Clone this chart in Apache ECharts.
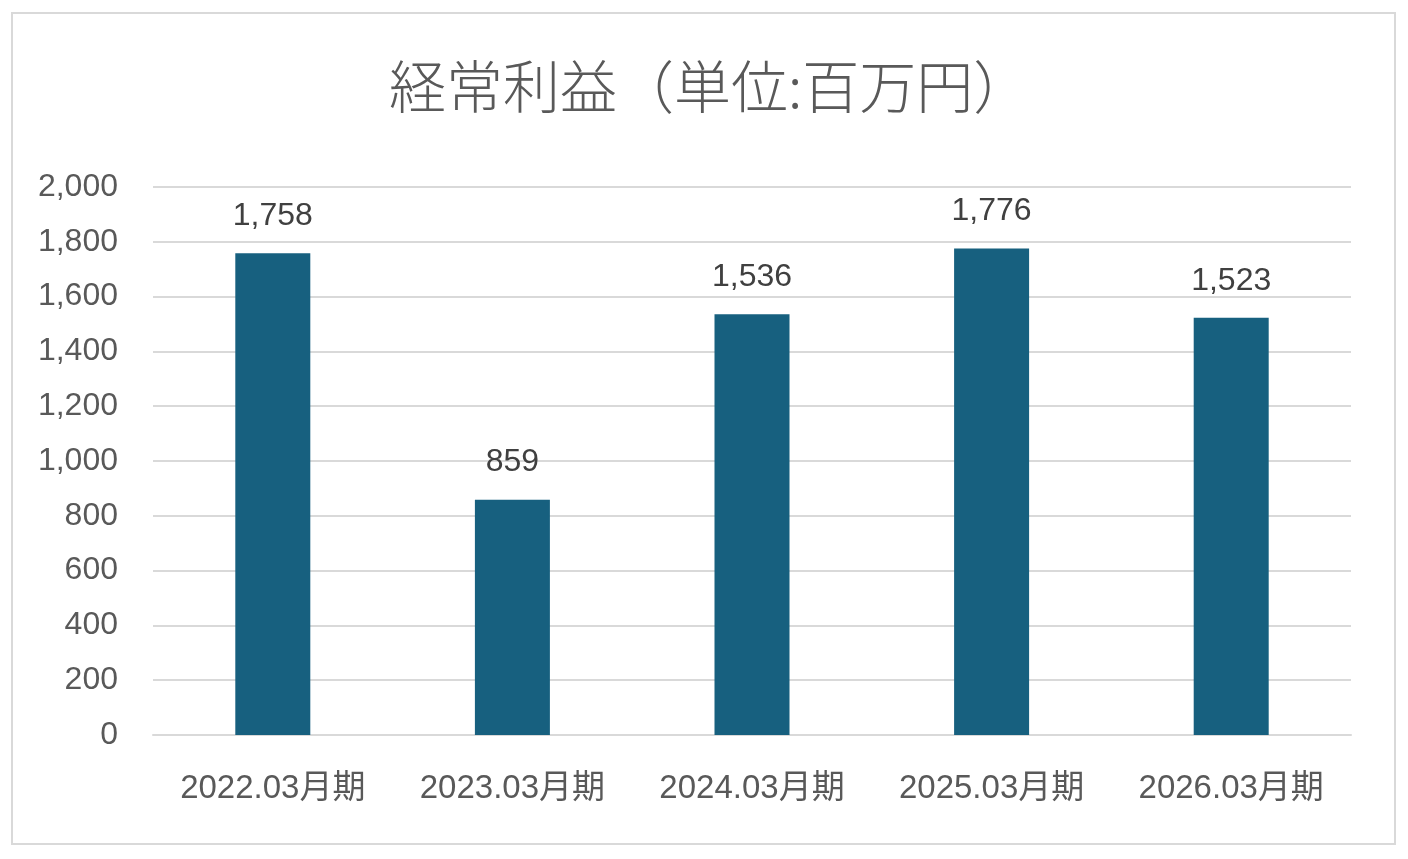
<!DOCTYPE html>
<html><head><meta charset="utf-8">
<script src="https://cdn.jsdelivr.net/npm/echarts@6/dist/echarts.min.js"></script>
<style>html,body{margin:0;padding:0;background:#fff}#c{width:1408px;height:859px}</style>
</head><body><div id="c"></div>
<script>
const titleText = '経常利益（単位:百万円）';
const categories = ['2022.03月期','2023.03月期','2024.03月期','2025.03月期','2026.03月期'];
const values = [1758, 859, 1536, 1776, 1523];
const yMin = 0, yMax = 2000, yInterval = 200;

const chart = echarts.init(document.getElementById('c'), null, {renderer:'canvas'});
const txt = '#595959';
const fam = "'Liberation Sans', 'Noto Sans CJK JP', sans-serif";
chart.setOption({
  animation:false,
  backgroundColor:'#fff',
  graphic:[{type:'rect',shape:{x:12,y:13,width:1383,height:831},style:{fill:'none',stroke:'#d9d9d9',lineWidth:2},silent:true}],
  title:{text:titleText,left:384,top:53,textStyle:{fontFamily:"'Noto Sans CJK JP', sans-serif",fontSize:57,fontWeight:300,color:txt}},
  grid:{left:153,right:57,top:187,bottom:124,containLabel:false},
  xAxis:{type:'category',data:categories,
    axisLine:{lineStyle:{color:'#d9d9d9',width:2}},axisTick:{show:false},
    axisLabel:{interval:0,hideOverlap:false,color:txt,fontSize:33,fontFamily:fam,margin:37}},
  yAxis:{type:'value',min:yMin,max:yMax,interval:yInterval,
    axisLine:{show:false},axisTick:{show:false},
    splitLine:{lineStyle:{color:'#d9d9d9',width:2}},
    axisLabel:{color:txt,fontSize:32,fontFamily:fam,margin:35,formatter:v=>v.toLocaleString('en-US')}},
  series:[{type:'bar',data:values,barWidth:75,itemStyle:{color:'#17607f'},
    label:{show:true,position:'top',distance:21,color:'#404040',fontSize:32,fontFamily:fam,
      formatter:p=>p.value.toLocaleString('en-US')}}]
});
</script></body></html>
